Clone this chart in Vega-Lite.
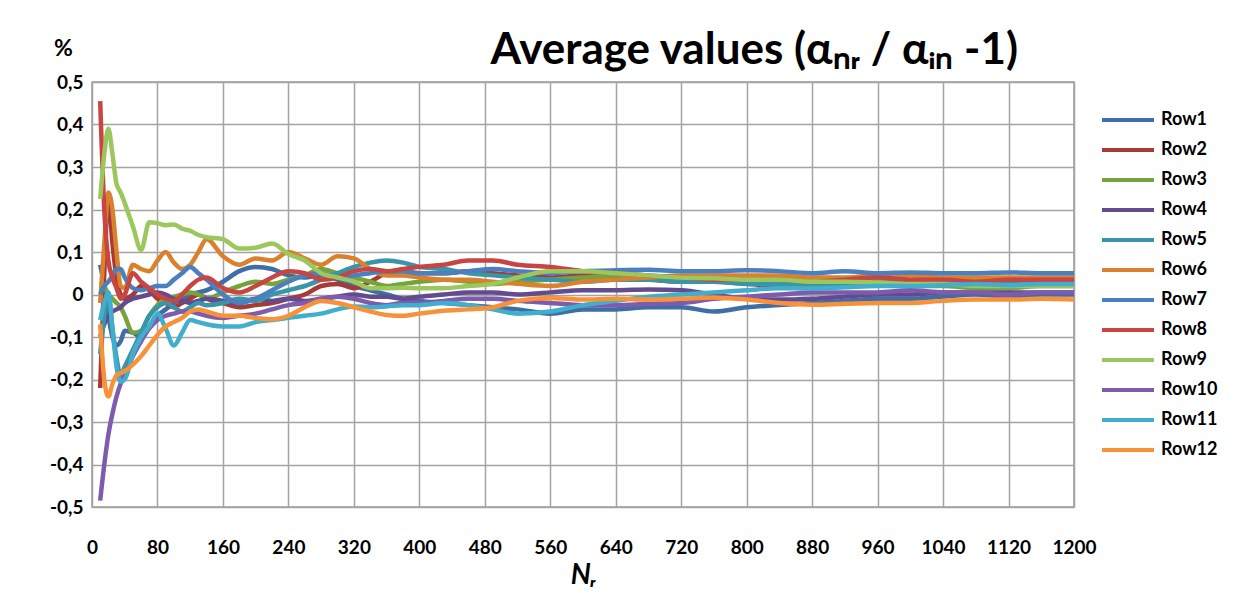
{
  "$schema": "https://vega.github.io/schema/vega-lite/v6.json",
  "width": 982,
  "height": 425,
  "autosize": {"type": "none"},
  "padding": {"left": 92, "top": 82, "right": 176, "bottom": 92},
  "background": "white",
  "title": {"text": "Average values (αₙᵣ / αᵢₙ -1)", "anchor": "end", "dx": -200, "dy": 52, "offset": 16, "font": "Lato", "fontSize": 44, "fontWeight": "bold", "color": "#000000"},
  "config": {
    "view": {"stroke": "#9a9a9a", "strokeWidth": 1.5},
    "axis": {"gridColor": "#a3a3a3", "gridWidth": 1.5, "domain": false, "ticks": false, "labelFont": "Lato", "labelFontSize": 19, "labelFontWeight": "bold", "labelColor": "#000000", "titleColor": "#000000"},
    "legend": {"labelFont": "Lato", "labelFontSize": 18, "labelFontWeight": "bold", "labelColor": "#000000"}
  },
  "data": {"values": [
{"s":"Row1","x":10,"y":0.07},{"s":"Row1","x":15,"y":0.02},{"s":"Row1","x":20,"y":-0.05},{"s":"Row1","x":25,"y":-0.1},{"s":"Row1","x":30,"y":-0.12},{"s":"Row1","x":35,"y":-0.11},{"s":"Row1","x":40,"y":-0.085},{"s":"Row1","x":50,"y":-0.09},{"s":"Row1","x":60,"y":-0.1},{"s":"Row1","x":70,"y":-0.075},{"s":"Row1","x":80,"y":-0.05},{"s":"Row1","x":90,"y":-0.035},{"s":"Row1","x":100,"y":-0.02},{"s":"Row1","x":110,"y":-0.01},{"s":"Row1","x":120,"y":0.0},{"s":"Row1","x":130,"y":0.005},{"s":"Row1","x":140,"y":0.01},{"s":"Row1","x":160,"y":0.03},{"s":"Row1","x":180,"y":0.055},{"s":"Row1","x":200,"y":0.065},{"s":"Row1","x":220,"y":0.06},{"s":"Row1","x":240,"y":0.045},{"s":"Row1","x":260,"y":0.04},{"s":"Row1","x":280,"y":0.045},{"s":"Row1","x":300,"y":0.035},{"s":"Row1","x":320,"y":0.02},{"s":"Row1","x":340,"y":0.01},{"s":"Row1","x":360,"y":0.0},{"s":"Row1","x":380,"y":-0.01},{"s":"Row1","x":400,"y":-0.015},{"s":"Row1","x":430,"y":-0.02},{"s":"Row1","x":460,"y":-0.025},{"s":"Row1","x":490,"y":-0.03},{"s":"Row1","x":520,"y":-0.035},{"s":"Row1","x":560,"y":-0.045},{"s":"Row1","x":600,"y":-0.035},{"s":"Row1","x":640,"y":-0.035},{"s":"Row1","x":680,"y":-0.03},{"s":"Row1","x":720,"y":-0.03},{"s":"Row1","x":760,"y":-0.04},{"s":"Row1","x":800,"y":-0.03},{"s":"Row1","x":840,"y":-0.025},{"s":"Row1","x":880,"y":-0.02},{"s":"Row1","x":920,"y":-0.015},{"s":"Row1","x":960,"y":-0.01},{"s":"Row1","x":1000,"y":-0.01},{"s":"Row1","x":1040,"y":-0.005},{"s":"Row1","x":1080,"y":0.0},{"s":"Row1","x":1120,"y":-0.005},{"s":"Row1","x":1160,"y":0.0},{"s":"Row1","x":1200,"y":0.0},
{"s":"Row2","x":10,"y":-0.22},{"s":"Row2","x":15,"y":0.05},{"s":"Row2","x":20,"y":0.23},{"s":"Row2","x":25,"y":0.12},{"s":"Row2","x":30,"y":0.04},{"s":"Row2","x":35,"y":0.0},{"s":"Row2","x":40,"y":-0.01},{"s":"Row2","x":50,"y":0.0},{"s":"Row2","x":60,"y":0.02},{"s":"Row2","x":70,"y":0.01},{"s":"Row2","x":80,"y":-0.01},{"s":"Row2","x":90,"y":-0.02},{"s":"Row2","x":100,"y":-0.03},{"s":"Row2","x":110,"y":-0.02},{"s":"Row2","x":120,"y":-0.01},{"s":"Row2","x":130,"y":0.0},{"s":"Row2","x":140,"y":-0.01},{"s":"Row2","x":160,"y":-0.02},{"s":"Row2","x":180,"y":-0.03},{"s":"Row2","x":200,"y":-0.025},{"s":"Row2","x":220,"y":-0.02},{"s":"Row2","x":240,"y":-0.01},{"s":"Row2","x":260,"y":0.0},{"s":"Row2","x":280,"y":0.02},{"s":"Row2","x":300,"y":0.025},{"s":"Row2","x":320,"y":0.015},{"s":"Row2","x":340,"y":0.03},{"s":"Row2","x":360,"y":0.05},{"s":"Row2","x":380,"y":0.055},{"s":"Row2","x":400,"y":0.05},{"s":"Row2","x":430,"y":0.05},{"s":"Row2","x":460,"y":0.055},{"s":"Row2","x":490,"y":0.05},{"s":"Row2","x":520,"y":0.045},{"s":"Row2","x":560,"y":0.04},{"s":"Row2","x":600,"y":0.045},{"s":"Row2","x":640,"y":0.04},{"s":"Row2","x":680,"y":0.035},{"s":"Row2","x":720,"y":0.03},{"s":"Row2","x":760,"y":0.03},{"s":"Row2","x":800,"y":0.025},{"s":"Row2","x":840,"y":0.02},{"s":"Row2","x":880,"y":0.02},{"s":"Row2","x":920,"y":0.025},{"s":"Row2","x":960,"y":0.03},{"s":"Row2","x":1000,"y":0.03},{"s":"Row2","x":1040,"y":0.03},{"s":"Row2","x":1080,"y":0.03},{"s":"Row2","x":1120,"y":0.035},{"s":"Row2","x":1160,"y":0.03},{"s":"Row2","x":1200,"y":0.03},
{"s":"Row3","x":10,"y":0.03},{"s":"Row3","x":15,"y":0.02},{"s":"Row3","x":20,"y":0.0},{"s":"Row3","x":25,"y":-0.01},{"s":"Row3","x":30,"y":-0.02},{"s":"Row3","x":35,"y":-0.03},{"s":"Row3","x":40,"y":-0.05},{"s":"Row3","x":50,"y":-0.09},{"s":"Row3","x":60,"y":-0.085},{"s":"Row3","x":70,"y":-0.05},{"s":"Row3","x":80,"y":-0.025},{"s":"Row3","x":90,"y":-0.01},{"s":"Row3","x":100,"y":-0.005},{"s":"Row3","x":110,"y":0.0},{"s":"Row3","x":120,"y":0.005},{"s":"Row3","x":130,"y":0.0},{"s":"Row3","x":140,"y":-0.01},{"s":"Row3","x":160,"y":0.005},{"s":"Row3","x":180,"y":0.02},{"s":"Row3","x":200,"y":0.03},{"s":"Row3","x":220,"y":0.025},{"s":"Row3","x":240,"y":0.035},{"s":"Row3","x":260,"y":0.045},{"s":"Row3","x":280,"y":0.06},{"s":"Row3","x":300,"y":0.05},{"s":"Row3","x":320,"y":0.04},{"s":"Row3","x":340,"y":0.03},{"s":"Row3","x":360,"y":0.02},{"s":"Row3","x":380,"y":0.025},{"s":"Row3","x":400,"y":0.03},{"s":"Row3","x":430,"y":0.035},{"s":"Row3","x":460,"y":0.03},{"s":"Row3","x":490,"y":0.025},{"s":"Row3","x":520,"y":0.03},{"s":"Row3","x":560,"y":0.035},{"s":"Row3","x":600,"y":0.04},{"s":"Row3","x":640,"y":0.045},{"s":"Row3","x":680,"y":0.04},{"s":"Row3","x":720,"y":0.035},{"s":"Row3","x":760,"y":0.03},{"s":"Row3","x":800,"y":0.03},{"s":"Row3","x":840,"y":0.025},{"s":"Row3","x":880,"y":0.02},{"s":"Row3","x":920,"y":0.02},{"s":"Row3","x":960,"y":0.025},{"s":"Row3","x":1000,"y":0.02},{"s":"Row3","x":1040,"y":0.02},{"s":"Row3","x":1080,"y":0.015},{"s":"Row3","x":1120,"y":0.015},{"s":"Row3","x":1160,"y":0.02},{"s":"Row3","x":1200,"y":0.02},
{"s":"Row4","x":10,"y":-0.1},{"s":"Row4","x":15,"y":-0.07},{"s":"Row4","x":20,"y":-0.05},{"s":"Row4","x":25,"y":-0.04},{"s":"Row4","x":30,"y":-0.035},{"s":"Row4","x":35,"y":-0.03},{"s":"Row4","x":40,"y":-0.02},{"s":"Row4","x":50,"y":-0.01},{"s":"Row4","x":60,"y":-0.005},{"s":"Row4","x":70,"y":0.0},{"s":"Row4","x":80,"y":0.005},{"s":"Row4","x":90,"y":0.0},{"s":"Row4","x":100,"y":-0.01},{"s":"Row4","x":110,"y":-0.015},{"s":"Row4","x":120,"y":-0.02},{"s":"Row4","x":130,"y":-0.015},{"s":"Row4","x":140,"y":-0.01},{"s":"Row4","x":160,"y":-0.015},{"s":"Row4","x":180,"y":-0.02},{"s":"Row4","x":200,"y":-0.01},{"s":"Row4","x":220,"y":-0.015},{"s":"Row4","x":240,"y":-0.01},{"s":"Row4","x":260,"y":-0.015},{"s":"Row4","x":280,"y":-0.01},{"s":"Row4","x":300,"y":-0.005},{"s":"Row4","x":320,"y":0.0},{"s":"Row4","x":340,"y":-0.005},{"s":"Row4","x":360,"y":-0.005},{"s":"Row4","x":380,"y":-0.01},{"s":"Row4","x":400,"y":-0.005},{"s":"Row4","x":430,"y":0.0},{"s":"Row4","x":460,"y":0.005},{"s":"Row4","x":490,"y":0.005},{"s":"Row4","x":520,"y":0.0},{"s":"Row4","x":560,"y":0.005},{"s":"Row4","x":600,"y":0.01},{"s":"Row4","x":640,"y":0.01},{"s":"Row4","x":680,"y":0.012},{"s":"Row4","x":720,"y":0.01},{"s":"Row4","x":760,"y":0.0},{"s":"Row4","x":800,"y":-0.01},{"s":"Row4","x":840,"y":-0.012},{"s":"Row4","x":880,"y":-0.01},{"s":"Row4","x":920,"y":-0.005},{"s":"Row4","x":960,"y":0.0},{"s":"Row4","x":1000,"y":0.0},{"s":"Row4","x":1040,"y":0.005},{"s":"Row4","x":1080,"y":0.005},{"s":"Row4","x":1120,"y":0.005},{"s":"Row4","x":1160,"y":0.005},{"s":"Row4","x":1200,"y":0.005},
{"s":"Row5","x":10,"y":-0.14},{"s":"Row5","x":15,"y":-0.05},{"s":"Row5","x":20,"y":0.0},{"s":"Row5","x":25,"y":-0.08},{"s":"Row5","x":30,"y":-0.15},{"s":"Row5","x":35,"y":-0.19},{"s":"Row5","x":40,"y":-0.17},{"s":"Row5","x":50,"y":-0.13},{"s":"Row5","x":60,"y":-0.09},{"s":"Row5","x":70,"y":-0.05},{"s":"Row5","x":80,"y":-0.03},{"s":"Row5","x":90,"y":-0.02},{"s":"Row5","x":100,"y":-0.03},{"s":"Row5","x":110,"y":-0.04},{"s":"Row5","x":120,"y":-0.03},{"s":"Row5","x":130,"y":-0.02},{"s":"Row5","x":140,"y":-0.025},{"s":"Row5","x":160,"y":-0.02},{"s":"Row5","x":180,"y":-0.01},{"s":"Row5","x":200,"y":-0.015},{"s":"Row5","x":220,"y":0.0},{"s":"Row5","x":240,"y":0.01},{"s":"Row5","x":260,"y":0.02},{"s":"Row5","x":280,"y":0.035},{"s":"Row5","x":300,"y":0.05},{"s":"Row5","x":320,"y":0.065},{"s":"Row5","x":340,"y":0.075},{"s":"Row5","x":360,"y":0.08},{"s":"Row5","x":380,"y":0.075},{"s":"Row5","x":400,"y":0.065},{"s":"Row5","x":430,"y":0.06},{"s":"Row5","x":460,"y":0.05},{"s":"Row5","x":490,"y":0.045},{"s":"Row5","x":520,"y":0.04},{"s":"Row5","x":560,"y":0.035},{"s":"Row5","x":600,"y":0.03},{"s":"Row5","x":640,"y":0.035},{"s":"Row5","x":680,"y":0.035},{"s":"Row5","x":720,"y":0.03},{"s":"Row5","x":760,"y":0.03},{"s":"Row5","x":800,"y":0.025},{"s":"Row5","x":840,"y":0.025},{"s":"Row5","x":880,"y":0.025},{"s":"Row5","x":920,"y":0.025},{"s":"Row5","x":960,"y":0.03},{"s":"Row5","x":1000,"y":0.025},{"s":"Row5","x":1040,"y":0.025},{"s":"Row5","x":1080,"y":0.02},{"s":"Row5","x":1120,"y":0.025},{"s":"Row5","x":1160,"y":0.025},{"s":"Row5","x":1200,"y":0.025},
{"s":"Row6","x":10,"y":-0.02},{"s":"Row6","x":15,"y":0.12},{"s":"Row6","x":20,"y":0.24},{"s":"Row6","x":25,"y":0.2},{"s":"Row6","x":30,"y":0.1},{"s":"Row6","x":35,"y":0.02},{"s":"Row6","x":40,"y":0.015},{"s":"Row6","x":50,"y":0.07},{"s":"Row6","x":60,"y":0.06},{"s":"Row6","x":70,"y":0.055},{"s":"Row6","x":80,"y":0.08},{"s":"Row6","x":90,"y":0.1},{"s":"Row6","x":100,"y":0.075},{"s":"Row6","x":110,"y":0.06},{"s":"Row6","x":120,"y":0.07},{"s":"Row6","x":130,"y":0.1},{"s":"Row6","x":140,"y":0.13},{"s":"Row6","x":160,"y":0.09},{"s":"Row6","x":180,"y":0.07},{"s":"Row6","x":200,"y":0.085},{"s":"Row6","x":220,"y":0.08},{"s":"Row6","x":240,"y":0.1},{"s":"Row6","x":260,"y":0.085},{"s":"Row6","x":280,"y":0.07},{"s":"Row6","x":300,"y":0.09},{"s":"Row6","x":320,"y":0.085},{"s":"Row6","x":340,"y":0.06},{"s":"Row6","x":360,"y":0.045},{"s":"Row6","x":380,"y":0.045},{"s":"Row6","x":400,"y":0.04},{"s":"Row6","x":430,"y":0.035},{"s":"Row6","x":460,"y":0.035},{"s":"Row6","x":490,"y":0.03},{"s":"Row6","x":520,"y":0.025},{"s":"Row6","x":560,"y":0.02},{"s":"Row6","x":600,"y":0.03},{"s":"Row6","x":640,"y":0.035},{"s":"Row6","x":680,"y":0.04},{"s":"Row6","x":720,"y":0.045},{"s":"Row6","x":760,"y":0.045},{"s":"Row6","x":800,"y":0.045},{"s":"Row6","x":840,"y":0.045},{"s":"Row6","x":880,"y":0.04},{"s":"Row6","x":920,"y":0.04},{"s":"Row6","x":960,"y":0.045},{"s":"Row6","x":1000,"y":0.045},{"s":"Row6","x":1040,"y":0.04},{"s":"Row6","x":1080,"y":0.04},{"s":"Row6","x":1120,"y":0.04},{"s":"Row6","x":1160,"y":0.04},{"s":"Row6","x":1200,"y":0.04},
{"s":"Row7","x":10,"y":0.0},{"s":"Row7","x":15,"y":0.02},{"s":"Row7","x":20,"y":0.03},{"s":"Row7","x":25,"y":0.045},{"s":"Row7","x":30,"y":0.06},{"s":"Row7","x":35,"y":0.06},{"s":"Row7","x":40,"y":0.04},{"s":"Row7","x":50,"y":0.015},{"s":"Row7","x":60,"y":0.01},{"s":"Row7","x":70,"y":0.015},{"s":"Row7","x":80,"y":0.02},{"s":"Row7","x":90,"y":0.02},{"s":"Row7","x":100,"y":0.035},{"s":"Row7","x":110,"y":0.05},{"s":"Row7","x":120,"y":0.065},{"s":"Row7","x":130,"y":0.05},{"s":"Row7","x":140,"y":0.035},{"s":"Row7","x":160,"y":0.0},{"s":"Row7","x":180,"y":-0.02},{"s":"Row7","x":200,"y":-0.01},{"s":"Row7","x":220,"y":0.01},{"s":"Row7","x":240,"y":0.03},{"s":"Row7","x":260,"y":0.045},{"s":"Row7","x":280,"y":0.05},{"s":"Row7","x":300,"y":0.04},{"s":"Row7","x":320,"y":0.045},{"s":"Row7","x":340,"y":0.05},{"s":"Row7","x":360,"y":0.055},{"s":"Row7","x":380,"y":0.055},{"s":"Row7","x":400,"y":0.05},{"s":"Row7","x":430,"y":0.05},{"s":"Row7","x":460,"y":0.055},{"s":"Row7","x":490,"y":0.06},{"s":"Row7","x":520,"y":0.055},{"s":"Row7","x":560,"y":0.05},{"s":"Row7","x":600,"y":0.055},{"s":"Row7","x":640,"y":0.057},{"s":"Row7","x":680,"y":0.058},{"s":"Row7","x":720,"y":0.055},{"s":"Row7","x":760,"y":0.055},{"s":"Row7","x":800,"y":0.057},{"s":"Row7","x":840,"y":0.055},{"s":"Row7","x":880,"y":0.05},{"s":"Row7","x":920,"y":0.055},{"s":"Row7","x":960,"y":0.05},{"s":"Row7","x":1000,"y":0.052},{"s":"Row7","x":1040,"y":0.05},{"s":"Row7","x":1080,"y":0.05},{"s":"Row7","x":1120,"y":0.052},{"s":"Row7","x":1160,"y":0.05},{"s":"Row7","x":1200,"y":0.05},
{"s":"Row8","x":10,"y":0.455},{"s":"Row8","x":15,"y":0.2},{"s":"Row8","x":20,"y":0.08},{"s":"Row8","x":25,"y":0.04},{"s":"Row8","x":30,"y":0.015},{"s":"Row8","x":35,"y":-0.01},{"s":"Row8","x":40,"y":0.0},{"s":"Row8","x":50,"y":0.05},{"s":"Row8","x":60,"y":0.03},{"s":"Row8","x":70,"y":0.015},{"s":"Row8","x":80,"y":0.0},{"s":"Row8","x":90,"y":-0.01},{"s":"Row8","x":100,"y":-0.015},{"s":"Row8","x":110,"y":0.0},{"s":"Row8","x":120,"y":0.02},{"s":"Row8","x":130,"y":0.035},{"s":"Row8","x":140,"y":0.04},{"s":"Row8","x":160,"y":0.015},{"s":"Row8","x":180,"y":0.005},{"s":"Row8","x":200,"y":0.02},{"s":"Row8","x":220,"y":0.04},{"s":"Row8","x":240,"y":0.055},{"s":"Row8","x":260,"y":0.05},{"s":"Row8","x":280,"y":0.035},{"s":"Row8","x":300,"y":0.04},{"s":"Row8","x":320,"y":0.055},{"s":"Row8","x":340,"y":0.06},{"s":"Row8","x":360,"y":0.055},{"s":"Row8","x":380,"y":0.06},{"s":"Row8","x":400,"y":0.065},{"s":"Row8","x":430,"y":0.07},{"s":"Row8","x":460,"y":0.08},{"s":"Row8","x":490,"y":0.08},{"s":"Row8","x":520,"y":0.07},{"s":"Row8","x":560,"y":0.065},{"s":"Row8","x":600,"y":0.055},{"s":"Row8","x":640,"y":0.05},{"s":"Row8","x":680,"y":0.045},{"s":"Row8","x":720,"y":0.04},{"s":"Row8","x":760,"y":0.035},{"s":"Row8","x":800,"y":0.035},{"s":"Row8","x":840,"y":0.035},{"s":"Row8","x":880,"y":0.03},{"s":"Row8","x":920,"y":0.035},{"s":"Row8","x":960,"y":0.04},{"s":"Row8","x":1000,"y":0.035},{"s":"Row8","x":1040,"y":0.035},{"s":"Row8","x":1080,"y":0.03},{"s":"Row8","x":1120,"y":0.035},{"s":"Row8","x":1160,"y":0.035},{"s":"Row8","x":1200,"y":0.035},
{"s":"Row9","x":10,"y":0.225},{"s":"Row9","x":15,"y":0.33},{"s":"Row9","x":20,"y":0.39},{"s":"Row9","x":25,"y":0.33},{"s":"Row9","x":30,"y":0.26},{"s":"Row9","x":35,"y":0.24},{"s":"Row9","x":40,"y":0.215},{"s":"Row9","x":50,"y":0.16},{"s":"Row9","x":60,"y":0.105},{"s":"Row9","x":70,"y":0.17},{"s":"Row9","x":80,"y":0.168},{"s":"Row9","x":90,"y":0.163},{"s":"Row9","x":100,"y":0.165},{"s":"Row9","x":110,"y":0.155},{"s":"Row9","x":120,"y":0.15},{"s":"Row9","x":130,"y":0.14},{"s":"Row9","x":140,"y":0.135},{"s":"Row9","x":160,"y":0.13},{"s":"Row9","x":180,"y":0.108},{"s":"Row9","x":200,"y":0.11},{"s":"Row9","x":220,"y":0.12},{"s":"Row9","x":240,"y":0.095},{"s":"Row9","x":260,"y":0.08},{"s":"Row9","x":280,"y":0.05},{"s":"Row9","x":300,"y":0.04},{"s":"Row9","x":320,"y":0.03},{"s":"Row9","x":340,"y":0.015},{"s":"Row9","x":360,"y":0.015},{"s":"Row9","x":380,"y":0.016},{"s":"Row9","x":400,"y":0.015},{"s":"Row9","x":430,"y":0.015},{"s":"Row9","x":460,"y":0.02},{"s":"Row9","x":490,"y":0.025},{"s":"Row9","x":520,"y":0.04},{"s":"Row9","x":560,"y":0.055},{"s":"Row9","x":600,"y":0.055},{"s":"Row9","x":640,"y":0.05},{"s":"Row9","x":680,"y":0.045},{"s":"Row9","x":720,"y":0.04},{"s":"Row9","x":760,"y":0.038},{"s":"Row9","x":800,"y":0.035},{"s":"Row9","x":840,"y":0.035},{"s":"Row9","x":880,"y":0.03},{"s":"Row9","x":920,"y":0.03},{"s":"Row9","x":960,"y":0.028},{"s":"Row9","x":1000,"y":0.025},{"s":"Row9","x":1040,"y":0.025},{"s":"Row9","x":1080,"y":0.02},{"s":"Row9","x":1120,"y":0.02},{"s":"Row9","x":1160,"y":0.02},{"s":"Row9","x":1200,"y":0.02},
{"s":"Row10","x":10,"y":-0.485},{"s":"Row10","x":15,"y":-0.4},{"s":"Row10","x":20,"y":-0.33},{"s":"Row10","x":25,"y":-0.28},{"s":"Row10","x":30,"y":-0.24},{"s":"Row10","x":35,"y":-0.21},{"s":"Row10","x":40,"y":-0.19},{"s":"Row10","x":50,"y":-0.145},{"s":"Row10","x":60,"y":-0.11},{"s":"Row10","x":70,"y":-0.08},{"s":"Row10","x":80,"y":-0.06},{"s":"Row10","x":90,"y":-0.05},{"s":"Row10","x":100,"y":-0.045},{"s":"Row10","x":110,"y":-0.04},{"s":"Row10","x":120,"y":-0.04},{"s":"Row10","x":130,"y":-0.045},{"s":"Row10","x":140,"y":-0.05},{"s":"Row10","x":160,"y":-0.055},{"s":"Row10","x":180,"y":-0.05},{"s":"Row10","x":200,"y":-0.045},{"s":"Row10","x":220,"y":-0.035},{"s":"Row10","x":240,"y":-0.025},{"s":"Row10","x":260,"y":-0.02},{"s":"Row10","x":280,"y":-0.01},{"s":"Row10","x":300,"y":-0.005},{"s":"Row10","x":320,"y":-0.01},{"s":"Row10","x":340,"y":-0.02},{"s":"Row10","x":360,"y":-0.025},{"s":"Row10","x":380,"y":-0.02},{"s":"Row10","x":400,"y":-0.02},{"s":"Row10","x":430,"y":-0.015},{"s":"Row10","x":460,"y":-0.01},{"s":"Row10","x":490,"y":-0.01},{"s":"Row10","x":520,"y":-0.015},{"s":"Row10","x":560,"y":-0.02},{"s":"Row10","x":600,"y":-0.025},{"s":"Row10","x":640,"y":-0.025},{"s":"Row10","x":680,"y":-0.022},{"s":"Row10","x":720,"y":-0.02},{"s":"Row10","x":760,"y":-0.01},{"s":"Row10","x":800,"y":-0.005},{"s":"Row10","x":840,"y":0.0},{"s":"Row10","x":880,"y":0.005},{"s":"Row10","x":920,"y":0.005},{"s":"Row10","x":960,"y":0.005},{"s":"Row10","x":1000,"y":0.01},{"s":"Row10","x":1040,"y":0.005},{"s":"Row10","x":1080,"y":0.005},{"s":"Row10","x":1120,"y":0.0},{"s":"Row10","x":1160,"y":0.005},{"s":"Row10","x":1200,"y":0.005},
{"s":"Row11","x":10,"y":-0.06},{"s":"Row11","x":15,"y":-0.02},{"s":"Row11","x":20,"y":0.005},{"s":"Row11","x":25,"y":-0.08},{"s":"Row11","x":30,"y":-0.17},{"s":"Row11","x":35,"y":-0.205},{"s":"Row11","x":40,"y":-0.2},{"s":"Row11","x":50,"y":-0.14},{"s":"Row11","x":60,"y":-0.1},{"s":"Row11","x":70,"y":-0.075},{"s":"Row11","x":80,"y":-0.045},{"s":"Row11","x":90,"y":-0.08},{"s":"Row11","x":100,"y":-0.12},{"s":"Row11","x":110,"y":-0.09},{"s":"Row11","x":120,"y":-0.06},{"s":"Row11","x":130,"y":-0.065},{"s":"Row11","x":140,"y":-0.07},{"s":"Row11","x":160,"y":-0.075},{"s":"Row11","x":180,"y":-0.075},{"s":"Row11","x":200,"y":-0.065},{"s":"Row11","x":220,"y":-0.06},{"s":"Row11","x":240,"y":-0.055},{"s":"Row11","x":260,"y":-0.05},{"s":"Row11","x":280,"y":-0.045},{"s":"Row11","x":300,"y":-0.035},{"s":"Row11","x":320,"y":-0.028},{"s":"Row11","x":340,"y":-0.03},{"s":"Row11","x":360,"y":-0.028},{"s":"Row11","x":380,"y":-0.025},{"s":"Row11","x":400,"y":-0.025},{"s":"Row11","x":430,"y":-0.02},{"s":"Row11","x":460,"y":-0.025},{"s":"Row11","x":490,"y":-0.035},{"s":"Row11","x":520,"y":-0.045},{"s":"Row11","x":560,"y":-0.04},{"s":"Row11","x":600,"y":-0.025},{"s":"Row11","x":640,"y":-0.015},{"s":"Row11","x":680,"y":-0.005},{"s":"Row11","x":720,"y":0.0},{"s":"Row11","x":760,"y":0.005},{"s":"Row11","x":800,"y":0.01},{"s":"Row11","x":840,"y":0.015},{"s":"Row11","x":880,"y":0.014},{"s":"Row11","x":920,"y":0.017},{"s":"Row11","x":960,"y":0.02},{"s":"Row11","x":1000,"y":0.02},{"s":"Row11","x":1040,"y":0.022},{"s":"Row11","x":1080,"y":0.025},{"s":"Row11","x":1120,"y":0.022},{"s":"Row11","x":1160,"y":0.025},{"s":"Row11","x":1200,"y":0.025},
{"s":"Row12","x":10,"y":-0.07},{"s":"Row12","x":15,"y":-0.2},{"s":"Row12","x":20,"y":-0.24},{"s":"Row12","x":25,"y":-0.21},{"s":"Row12","x":30,"y":-0.19},{"s":"Row12","x":35,"y":-0.185},{"s":"Row12","x":40,"y":-0.18},{"s":"Row12","x":50,"y":-0.165},{"s":"Row12","x":60,"y":-0.145},{"s":"Row12","x":70,"y":-0.12},{"s":"Row12","x":80,"y":-0.095},{"s":"Row12","x":90,"y":-0.075},{"s":"Row12","x":100,"y":-0.065},{"s":"Row12","x":110,"y":-0.055},{"s":"Row12","x":120,"y":-0.04},{"s":"Row12","x":130,"y":-0.035},{"s":"Row12","x":140,"y":-0.04},{"s":"Row12","x":160,"y":-0.05},{"s":"Row12","x":180,"y":-0.05},{"s":"Row12","x":200,"y":-0.055},{"s":"Row12","x":220,"y":-0.058},{"s":"Row12","x":240,"y":-0.05},{"s":"Row12","x":260,"y":-0.03},{"s":"Row12","x":280,"y":-0.015},{"s":"Row12","x":300,"y":-0.02},{"s":"Row12","x":320,"y":-0.03},{"s":"Row12","x":340,"y":-0.04},{"s":"Row12","x":360,"y":-0.048},{"s":"Row12","x":380,"y":-0.05},{"s":"Row12","x":400,"y":-0.045},{"s":"Row12","x":430,"y":-0.038},{"s":"Row12","x":460,"y":-0.035},{"s":"Row12","x":490,"y":-0.03},{"s":"Row12","x":520,"y":-0.015},{"s":"Row12","x":560,"y":-0.008},{"s":"Row12","x":600,"y":-0.012},{"s":"Row12","x":640,"y":-0.01},{"s":"Row12","x":680,"y":-0.012},{"s":"Row12","x":720,"y":-0.01},{"s":"Row12","x":760,"y":-0.007},{"s":"Row12","x":800,"y":-0.012},{"s":"Row12","x":840,"y":-0.02},{"s":"Row12","x":880,"y":-0.024},{"s":"Row12","x":920,"y":-0.022},{"s":"Row12","x":960,"y":-0.02},{"s":"Row12","x":1000,"y":-0.02},{"s":"Row12","x":1040,"y":-0.015},{"s":"Row12","x":1080,"y":-0.012},{"s":"Row12","x":1120,"y":-0.012},{"s":"Row12","x":1160,"y":-0.01},{"s":"Row12","x":1200,"y":-0.012}
  ]},
  "mark": {"type": "line", "strokeWidth": 4.5, "interpolate": "monotone"},
  "encoding": {
    "x": {"field": "x", "type": "quantitative",
      "scale": {"domain": [0, 1200], "nice": false, "zero": false},
      "axis": {"values": [0,80,160,240,320,400,480,560,640,720,800,880,960,1040,1120,1200], "format": "d", "labelPadding": 31, "labelFlush": false,
        "title": "Nᵣ", "titleFont": "Lato", "titleFontSize": 28, "titleFontStyle": "italic", "titleFontWeight": "bold", "titlePadding": 4}},
    "y": {"field": "y", "type": "quantitative",
      "scale": {"domain": [-0.5, 0.5], "nice": false, "zero": false},
      "axis": {"values": [-0.5,-0.4,-0.3,-0.2,-0.1,0,0.1,0.2,0.3,0.4,0.5], "labelPadding": 9, "labelFlush": false,
        "labelExpr": "datum.value == 0 ? '0' : (datum.value < 0 ? '-' : '') + replace(format(abs(datum.value), '.1f'), '.', ',')",
        "title": "%", "titleAngle": 0, "titleX": -29, "titleY": -22, "titleAlign": "center", "titleBaseline": "bottom", "titleFont": "Lato", "titleFontSize": 23, "titleFontWeight": "bold"}},
    "color": {"field": "s", "type": "nominal", "sort": ["Row1","Row2","Row3","Row4","Row5","Row6","Row7","Row8","Row9","Row10","Row11","Row12"],
      "scale": {"domain": ["Row1","Row2","Row3","Row4","Row5","Row6","Row7","Row8","Row9","Row10","Row11","Row12"],
        "range": ["#3E6DA8","#A83A36","#76A33C","#624B8E","#3896A8","#D9812C","#4A7FC1","#C84542","#9BC75C","#7E5CAD","#41AECD","#F79239"]},
      "legend": {"title": null, "orient": "none", "legendX": 1034, "legendY": 23, "symbolType": "M-3,0L1,0", "symbolSize": 676, "symbolStrokeWidth": 4, "labelOffset": 5, "rowPadding": 6}}
  }
}
